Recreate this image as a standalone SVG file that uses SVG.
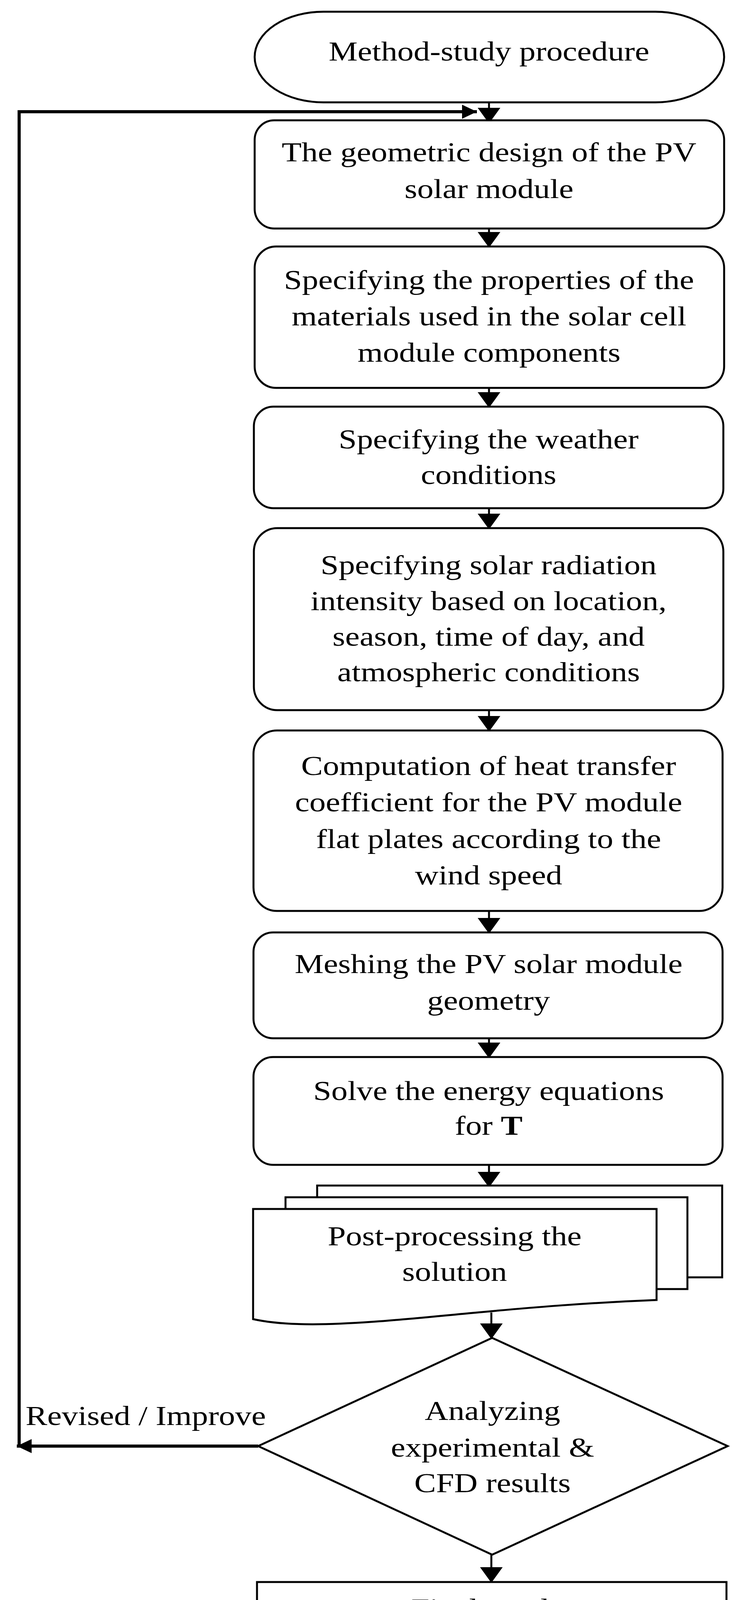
<svg xmlns="http://www.w3.org/2000/svg" width="1910" height="4282" viewBox="0 0 1910 4282">
<defs>
<style>
.shape{fill:#fff;stroke:#000;stroke-width:5}
.conn{fill:none;stroke:#000;stroke-width:5}
.loop{fill:none;stroke:#000;stroke-width:8}
.t{font-family:"Liberation Serif","Times New Roman",serif;font-size:70px;fill:#000;text-anchor:middle}
</style>
<marker id="ah" markerUnits="userSpaceOnUse" markerWidth="40" markerHeight="58" viewBox="0 0 40 58" refX="40" refY="29" orient="auto"><path d="M0,0 L40,29 L0,58 z" fill="#000"/></marker>
<marker id="lh" markerUnits="userSpaceOnUse" markerWidth="38" markerHeight="36" viewBox="0 0 38 36" refX="38" refY="18" orient="auto"><path d="M0,0 L38,18 L0,36 z" fill="#000"/></marker>
</defs>
<rect width="1910" height="4282" fill="#fff"/>
<g id="connectors">
<path class="conn" d="M1252,262 V316" marker-end="url(#ah)"/>
<path class="conn" d="M1252,585 V634" marker-end="url(#ah)"/>
<path class="conn" d="M1252,993 V1044" marker-end="url(#ah)"/>
<path class="conn" d="M1252,1301 V1355" marker-end="url(#ah)"/>
<path class="conn" d="M1252,1818 V1873" marker-end="url(#ah)"/>
<path class="conn" d="M1252,2332 V2390" marker-end="url(#ah)"/>
<path class="conn" d="M1252,2658 V2709" marker-end="url(#ah)"/>
<path class="conn" d="M1252,2982 V3040" marker-end="url(#ah)"/>
<path class="conn" d="M1258,3360 V3428" marker-end="url(#ah)"/>
<path class="conn" d="M1258,3980 V4052" marker-end="url(#ah)"/>
<path class="loop" d="M661,3702 H43" marker-end="url(#lh)"/>
<path class="loop" d="M49,3706 V286 H1221" marker-end="url(#lh)"/>
</g>
<g id="start">
<rect class="shape" x="652" y="30" width="1202" height="232" rx="176" ry="116"/>
<text class="t" transform="translate(1252 0) scale(1.19 1)"><tspan x="0" y="155">Method-study procedure</tspan></text>
</g>
<g id="geometry">
<rect class="shape" x="652" y="308" width="1202" height="277" rx="50"/>
<text class="t" transform="translate(1252 0) scale(1.19 1)"><tspan x="0" y="413">The geometric design of the PV</tspan><tspan x="0" y="507">solar module</tspan></text>
</g>
<g id="materials">
<rect class="shape" x="652" y="631" width="1202" height="362" rx="55"/>
<text class="t" transform="translate(1252 0) scale(1.19 1)"><tspan x="0" y="740">Specifying the properties of the</tspan><tspan x="0" y="833">materials used in the solar cell</tspan><tspan x="0" y="926">module components</tspan></text>
</g>
<g id="weather">
<rect class="shape" x="650" y="1041" width="1202" height="260" rx="50"/>
<text class="t" transform="translate(1251 0) scale(1.19 1)"><tspan x="0" y="1148">Specifying the weather</tspan><tspan x="0" y="1239">conditions</tspan></text>
</g>
<g id="radiation">
<rect class="shape" x="650" y="1352" width="1202" height="466" rx="60"/>
<text class="t" transform="translate(1251 0) scale(1.19 1)"><tspan x="0" y="1470">Specifying solar radiation</tspan><tspan x="0" y="1562">intensity based on location,</tspan><tspan x="0" y="1653">season, time of day, and</tspan><tspan x="0" y="1744">atmospheric conditions</tspan></text>
</g>
<g id="heat">
<rect class="shape" x="649" y="1870" width="1201" height="462" rx="60"/>
<text class="t" transform="translate(1251 0) scale(1.19 1)"><tspan x="0" y="1984">Computation of heat transfer</tspan><tspan x="0" y="2077">coefficient for the PV module</tspan><tspan x="0" y="2171">flat plates according to the</tspan><tspan x="0" y="2264">wind speed</tspan></text>
</g>
<g id="meshing">
<rect class="shape" x="649" y="2387" width="1201" height="271" rx="50"/>
<text class="t" transform="translate(1251 0) scale(1.19 1)"><tspan x="0" y="2491">Meshing the PV solar module</tspan><tspan x="0" y="2585">geometry</tspan></text>
</g>
<g id="solve">
<rect class="shape" x="649" y="2706" width="1201" height="276" rx="50"/>
<text class="t" transform="translate(1251 0) scale(1.19 1)"><tspan x="0" y="2816">Solve the energy equations</tspan><tspan x="0" y="2905">for <tspan font-weight="bold">T</tspan></tspan></text>
</g>
<g id="postprocess">
<path class="shape" d="M812,3063 V3035 H1849 V3270 H1760"/>
<path class="shape" d="M731,3094 V3065 H1760 V3300 H1681"/>
<path class="shape" d="M648,3095 H1681 V3328 C1500,3335 1350,3348 1200,3362 C1050,3376 900,3392 780,3390 C720,3389 680,3384 648,3377 Z"/>
<text class="t" transform="translate(1164 0) scale(1.19 1)"><tspan x="0" y="3188">Post-processing the</tspan><tspan x="0" y="3279">solution</tspan></text>
</g>
<g id="analyze">
<polygon class="shape" points="1260,3425 1863,3702 1260,3980 661,3702"/>
<text class="t" transform="translate(1261 0) scale(1.19 1)"><tspan x="0" y="3635">Analyzing</tspan><tspan x="0" y="3729">experimental &amp;</tspan><tspan x="0" y="3820">CFD results</tspan></text>
</g>
<g id="final">
<path class="shape" d="M658,4050 H1860 V4205 C1650,4210 1450,4225 1250,4236 C1100,4243 960,4244 880,4242 C800,4240 720,4237 658,4232 Z"/>
<text class="t" transform="translate(1258 0) scale(1.19 1)"><tspan x="0" y="4141">Final results</tspan></text>
</g>
<g id="label-revise">
<text class="t" transform="translate(373 0) scale(1.19 1)"><tspan x="0" y="3648">Revised / Improve</tspan></text>
</g>
</svg>
